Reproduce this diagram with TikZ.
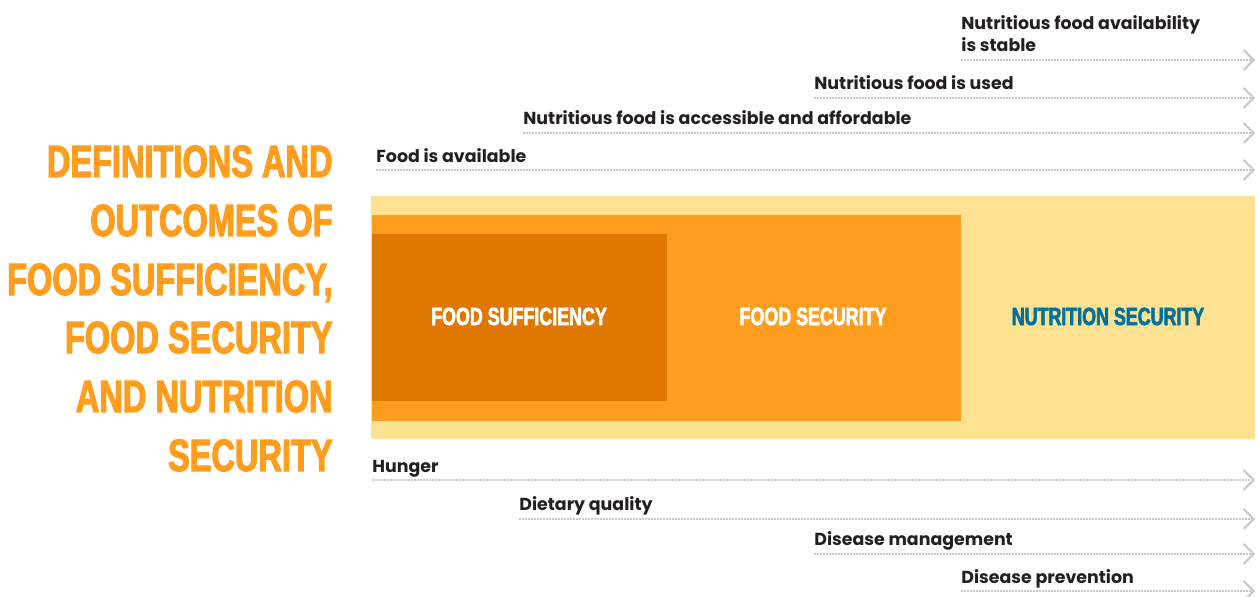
\documentclass[tikz,border=0pt]{standalone}
\usepackage{fontspec}
\setmainfont{Poppins}
\newfontfamily\titelfont[FakeStretch=0.72,FakeBold=2.5,BoldFont={Liberation Sans Bold},BoldFeatures={FakeStretch=0.72,FakeBold=2.5}]{Liberation Sans Bold}
\usetikzlibrary{arrows.meta,positioning}
\definecolor{hellgelb}{HTML}{FEE291}
\definecolor{orangeA}{HTML}{FF9E1E}
\definecolor{orangeB}{HTML}{E07800}
\definecolor{petrol}{HTML}{00719C}
\definecolor{schrift}{HTML}{231F20}
\definecolor{punkt}{HTML}{C8C8C8}
\tikzset{
    %Define style for the headline
    titel/.style={
           anchor=base east,
           inner sep=0pt,
           text=orangeA,
           font=\titelfont\fontsize{22.6}{26}\selectfont},
    %Define style for boxes
    feld/.style={
           rectangle,
           anchor=north west,
           inner sep=0pt,
           draw=none},
    feldtext/.style={
           anchor=base,
           inner sep=0pt,
           font=\titelfont\fontsize{12.4}{14}\selectfont},
    % Define style for outcome labels
    merkmal/.style={
           anchor=base west,
           inner sep=0pt,
           align=left,
           text=schrift,
           font=\bfseries\fontsize{8.7}{11}\selectfont},
    % Define arrow style
    pil/.style={
           draw=punkt,
           line width=0.75pt,
           dash pattern=on 0.75pt off 0.75pt,
           -{Straight Barb[length=5pt,width=10pt,line width=1pt]}}
}

\begin{document}
\begin{tikzpicture}[x=0.5pt,y=-0.5pt]
  \useasboundingbox (0,0) rectangle (1258,596);
  % headline
  \foreach \zeile/\yy [count=\i] in {DEFINITIONS AND/177, OUTCOMES OF/236,
      {FOOD SUFFICIENCY,}/295, FOOD SECURITY/353, AND NUTRITION/412, SECURITY/471}
    \node[titel] (t\i) at (333,\yy) {\zeile};
  % nested boxes
  \node[feld, fill=hellgelb, minimum width=442pt, minimum height=121.5pt] (NS) at (371,196) {};
  \node[feld, fill=orangeA, minimum width=294.5pt, minimum height=103pt] (FS) at (372,215) {};
  \node[feld, fill=orangeB, minimum width=147.5pt, minimum height=83.5pt] (FF) at (372,234) {};
  \node[feldtext, text=white] (lFF) at (519,325) {FOOD SUFFICIENCY};
  \node[feldtext, text=white] (lFS) at (813,325) {FOOD SECURITY};
  \node[feldtext, text=petrol] (lNS) at (1108,325) {NUTRITION SECURITY};
  % definitions above
  \node[merkmal] (d4) at (961,51) {Nutritious food availability\\is stable};
  \node[merkmal] (d3) at (814,89) {Nutritious food is used};
  \node[merkmal] (d2) at (523,124) {Nutritious food is accessible and affordable};
  \node[merkmal] (d1) at (376,162) {Food is available};
  % outcomes below
  \node[merkmal] (o1) at (372,472) {Hunger};
  \node[merkmal] (o2) at (519,510) {Dietary quality};
  \node[merkmal] (o3) at (814,545) {Disease management};
  \node[merkmal] (o4) at (961,583) {Disease prevention};
  % arrow ends
  \coordinate (a4) at (961,60);  \coordinate (b4) at (1255,60);
  \coordinate (a3) at (814,98);  \coordinate (b3) at (1255,98);
  \coordinate (a2) at (523,133); \coordinate (b2) at (1255,133);
  \coordinate (a1) at (376,170); \coordinate (b1) at (1255,170);
  \coordinate (c1) at (372,480); \coordinate (e1) at (1255,480);
  \coordinate (c2) at (519,519); \coordinate (e2) at (1255,519);
  \coordinate (c3) at (814,554); \coordinate (e3) at (1255,554);
  \coordinate (c4) at (961,591); \coordinate (e4) at (1255,591);
  \draw[pil] (a4) -- (b4);
  \draw[pil] (a3) -- (b3);
  \draw[pil] (a2) -- (b2);
  \draw[pil] (a1) -- (b1);
  \draw[pil] (c1) -- (e1);
  \draw[pil] (c2) -- (e2);
  \draw[pil] (c3) -- (e3);
  \draw[pil] (c4) -- (e4);
\end{tikzpicture}
\end{document}
